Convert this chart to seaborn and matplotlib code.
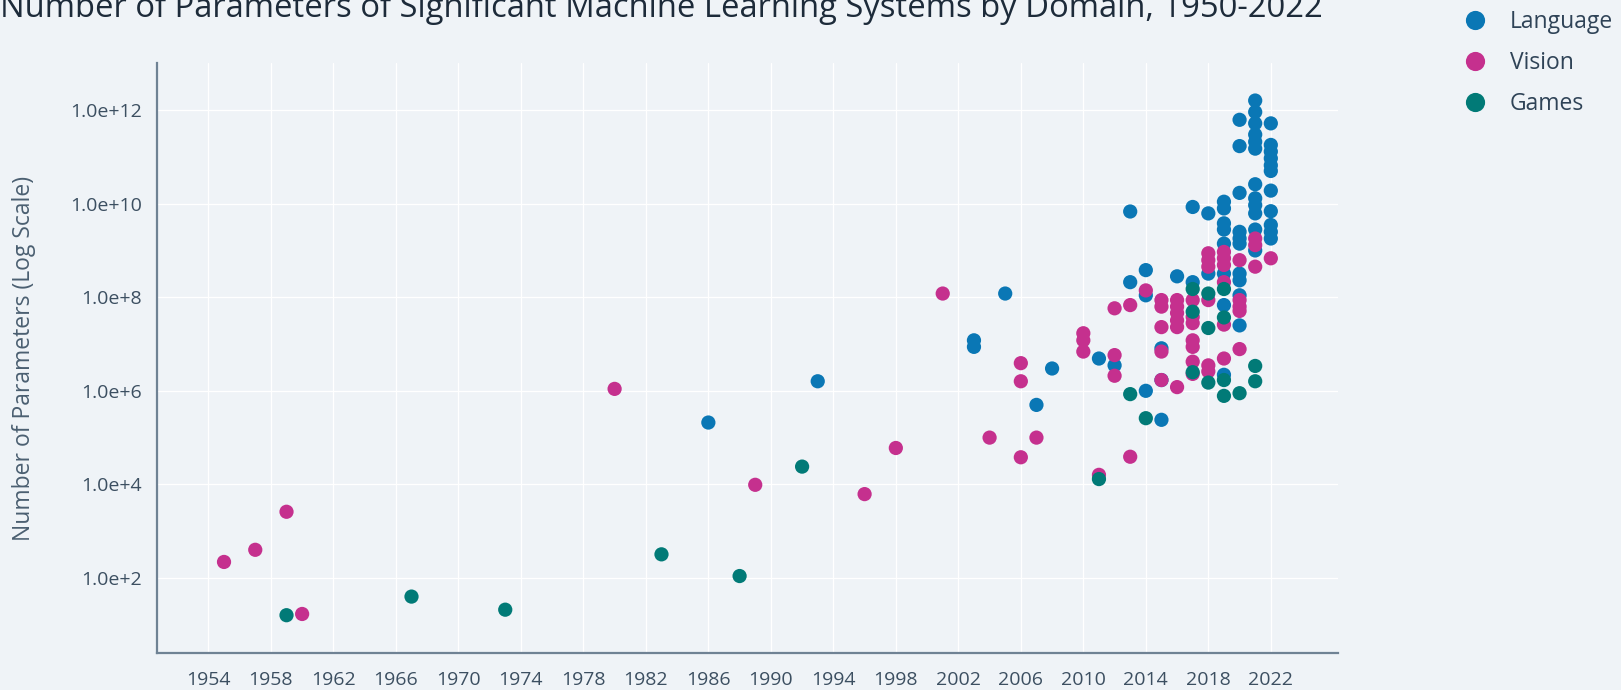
import math

import matplotlib
matplotlib.use("Agg")
import matplotlib.pyplot as plt
import pandas as pd
import seaborn as sns
from matplotlib.ticker import FixedLocator, FuncFormatter

# values (year, number of parameters)
lang_year = [1986, 1993, 2003, 2003, 2005, 2007, 2008, 2011, 2012,
             2013, 2013, 2014, 2014, 2014, 2015, 2015, 2015, 2016, 2017, 2017,
             2018, 2018,
             2019, 2019, 2019, 2019, 2019, 2019, 2019, 2019,
             2020, 2020, 2020, 2020, 2020, 2020, 2020, 2020, 2020, 2020,
             2021, 2021, 2021, 2021, 2021, 2021, 2021, 2021, 2021, 2021, 2021, 2021,
             2022, 2022, 2022, 2022, 2022, 2022, 2022, 2022, 2022, 2022, 2022]
lang_params = [2.1e5, 1.6e6, 1.2e7, 8.7e6, 1.2e8, 5.0e5, 3.0e6, 4.9e6, 3.5e6,
               6.8e9, 2.1e8, 3.8e8, 1.1e8, 1.0e6, 8.1e6, 1.7e6, 2.4e5, 2.8e8, 8.5e9, 2.1e8,
               6.2e9, 3.2e8,
               1.1e10, 7.9e9, 3.8e9, 2.8e9, 1.4e9, 3.2e8, 6.8e7, 2.2e6,
               6.2e11, 1.7e11, 1.7e10, 2.5e9, 1.8e9, 1.4e9, 3.2e8, 2.3e8, 1.1e8, 2.5e7,
               1.6e12, 9.1e11, 5.2e11, 3.0e11, 2.1e11, 1.5e11, 2.6e10, 1.3e10, 9.3e9, 6.2e9, 2.8e9, 1.0e9,
               5.2e11, 1.8e11, 1.3e11, 9.3e10, 6.6e10, 5.0e10, 1.9e10, 6.9e9, 3.5e9, 2.5e9, 1.8e9]

vis_year = [1955, 1957, 1959, 1960, 1980, 1989, 1996, 1998, 2001, 2004,
            2006, 2006, 2006, 2007, 2010, 2010, 2010, 2011,
            2012, 2012, 2012, 2013, 2013, 2014,
            2015, 2015, 2015, 2015, 2015,
            2016, 2016, 2016, 2016, 2016, 2016,
            2017, 2017, 2017, 2017, 2017, 2017, 2017,
            2018, 2018, 2018, 2018, 2018, 2018,
            2019, 2019, 2019, 2019, 2019, 2019,
            2020, 2020, 2020, 2020, 2020,
            2021, 2021, 2021, 2022]
vis_params = [2.2e2, 4.0e2, 2.6e3, 17, 1.1e6, 9.8e3, 6.2e3, 6.0e4, 1.2e8, 1.0e5,
              3.9e6, 1.6e6, 3.8e4, 1.0e5, 1.7e7, 1.2e7, 6.9e6, 1.6e4,
              5.8e7, 5.8e6, 2.1e6, 6.8e7, 3.9e4, 1.4e8,
              8.7e7, 6.3e7, 2.3e7, 6.9e6, 1.7e6,
              8.7e7, 6.3e7, 4.6e7, 3.2e7, 2.3e7, 1.2e6,
              8.7e7, 3.8e7, 2.8e7, 1.2e7, 8.7e6, 4.2e6, 2.3e6,
              8.7e8, 6.2e8, 4.5e8, 8.7e7, 3.5e6, 2.6e6,
              9.3e8, 6.8e8, 4.9e8, 2.1e8, 2.6e7, 4.9e6,
              6.2e8, 8.7e7, 6.3e7, 5.1e7, 7.8e6,
              1.8e9, 1.3e9, 4.5e8, 6.8e8]

game_year = [1959, 1967, 1973, 1983, 1988, 1992, 2011, 2013, 2014,
             2017, 2017, 2017, 2018, 2018, 2018,
             2019, 2019, 2019, 2019, 2020, 2021, 2021]
game_params = [16, 40, 21, 3.2e2, 1.1e2, 2.4e4, 1.3e4, 8.5e5, 2.6e5,
               1.5e8, 4.9e7, 2.5e6, 1.2e8, 2.2e7, 1.5e6,
               1.5e8, 3.7e7, 1.7e6, 7.8e5, 8.9e5, 3.4e6, 1.6e6]

domains = ["Language", "Vision", "Games"]
colors = ["#0a77b5", "#c5308e", "#017a77"]
x_ticks = list(range(1954, 2023, 4))
y_ticks = [1e2, 1e4, 1e6, 1e8, 1e10, 1e12]

BG = "#eff3f7"

df = pd.concat([
    pd.DataFrame({"year": lang_year, "params": lang_params, "domain": "Language"}),
    pd.DataFrame({"year": vis_year, "params": vis_params, "domain": "Vision"}),
    pd.DataFrame({"year": game_year, "params": game_params, "domain": "Games"}),
], ignore_index=True)

sns.set_theme(style="whitegrid")
plt.rcParams["font.family"] = ["Open Sans", "DejaVu Sans"]

fig = plt.figure(figsize=(16.21, 6.90), dpi=100, facecolor=BG)
ax = fig.add_axes([157.3 / 1621, 1 - 653.3 / 690, (1338 - 157.3) / 1621, (653.3 - 63.3) / 690])
ax.set_facecolor(BG)

sns.scatterplot(data=df, x="year", y="params", hue="domain", hue_order=domains,
                palette=dict(zip(domains, colors)), s=105, linewidth=0, alpha=1,
                ax=ax, zorder=3)

ax.set_yscale("log")
ax.set_xlim(1950.73, 2026.3)
ax.set_ylim(10 ** 0.39, 1e13)
ax.xaxis.set_major_locator(FixedLocator(x_ticks))
ax.yaxis.set_major_locator(FixedLocator(y_ticks))
ax.yaxis.set_minor_locator(FixedLocator([]))
ax.yaxis.set_major_formatter(FuncFormatter(lambda v, p: f"1.0e+{int(round(math.log10(v)))}"))

ax.grid(True, color="white", linewidth=0.9)
for side in ["top", "right"]:
    ax.spines[side].set_visible(False)
for side in ["left", "bottom"]:
    ax.spines[side].set_color("#6f8294")
    ax.spines[side].set_linewidth(1.6)

ax.tick_params(axis="both", length=0, labelsize=14, colors="#3c4f61")
ax.tick_params(axis="x", pad=13)
ax.tick_params(axis="y", pad=11)

ax.set_xlabel("")
ax.set_ylabel("Number of Parameters (Log Scale)", fontsize=16.5, color="#4b5f71")
ax.yaxis.label.set_va("center")
ax.yaxis.set_label_coords(-(157.3 - 24) / (1338 - 157.3), 0.5)

fig.text(0.0, 1 - 16.7 / 690, "Number of Parameters of Significant Machine Learning Systems by Domain, 1950-2022",
         fontsize=23.6, color="#1d2b3a", va="baseline", ha="left")

sns.move_legend(ax, "upper left", bbox_to_anchor=(1464 / 1621, 0.986),
                bbox_transform=fig.transFigure, frameon=False, title=None,
                fontsize=16.5, markerscale=1.35, handlelength=1.0, handletextpad=1.0,
                labelspacing=0.75, borderaxespad=0, borderpad=0)
for t in ax.get_legend().get_texts():
    t.set_color("#2f4357")

fig.savefig("out.png", dpi=100, facecolor=BG)
